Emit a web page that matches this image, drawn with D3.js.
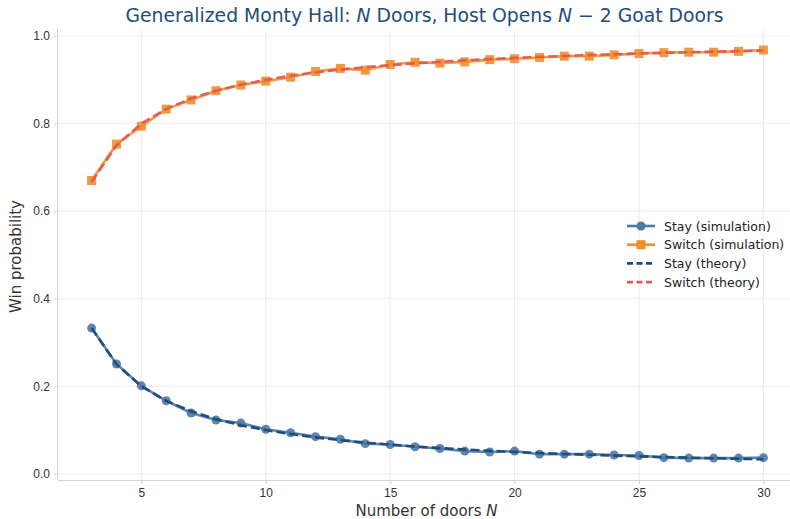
<!DOCTYPE html>
<meta charset="utf-8">
<style>
html,
body {
    margin: 0;
    padding: 0;
    overflow: hidden;
    background: #fff;
}

svg {
    display: block;
    font-family: "DejaVu Sans", sans-serif;
}

.grid line {
    stroke: #ebebeb;
    stroke-width: 1;
}

.axis text {
    font-size: 12px;
    fill: #333;
}

.axis path,
.axis line {
    stroke: #d0d3da;
}
</style>
<svg width="790" height="519"></svg>
<script src="https://d3js.org/d3.v7.min.js"></script>
<script>
var doors = d3.range(3, 31);

// simulated win rates
var staySim = [0.333, 0.251, 0.201, 0.167, 0.139, 0.123, 0.116, 0.102, 0.094, 0.085,
    0.079, 0.069, 0.067, 0.062, 0.058, 0.052, 0.050, 0.052, 0.045, 0.045,
    0.045, 0.043, 0.042, 0.037, 0.036, 0.036, 0.036, 0.037];
var switchSim = [0.670, 0.753, 0.794, 0.833, 0.854, 0.875, 0.888, 0.897, 0.906, 0.919,
    0.926, 0.922, 0.935, 0.940, 0.938, 0.941, 0.946, 0.948, 0.951, 0.954,
    0.954, 0.957, 0.960, 0.962, 0.963, 0.963, 0.965, 0.968];
// theory: 1/N and (N-1)/N
var stayTheory = [0.3333, 0.25, 0.2, 0.1667, 0.1429, 0.125, 0.1111, 0.1, 0.0909, 0.0833,
    0.0769, 0.0714, 0.0667, 0.0625, 0.0588, 0.0556, 0.0526, 0.05, 0.0476, 0.0455,
    0.0435, 0.0417, 0.04, 0.0385, 0.037, 0.0357, 0.0345, 0.0333];
var switchTheory = [0.6667, 0.75, 0.8, 0.8333, 0.8571, 0.875, 0.8889, 0.9, 0.9091, 0.9167,
    0.9231, 0.9286, 0.9333, 0.9375, 0.9412, 0.9444, 0.9474, 0.95, 0.9524, 0.9545,
    0.9565, 0.9583, 0.96, 0.9615, 0.963, 0.9643, 0.9655, 0.9667];

var xTicks = [5, 10, 15, 20, 25, 30];
var yTicks = [0, 0.2, 0.4, 0.6, 0.8, 1.0];

var svg = d3.select("svg");
var plotLeft = 58, plotRight = 797, plotTop = 29, plotBottom = 480;

var x = d3.scaleLinear().domain([1.65, 31.35]).range([plotLeft, plotRight]);
var y = d3.scaleLinear().domain([-0.014, 1.016]).range([plotBottom, plotTop]);

// grid
var grid = svg.append("g").attr("class", "grid");
grid.selectAll("line.v").data(xTicks).enter().append("line")
    .attr("class", "v")
    .attr("x1", function(d) { return x(d); })
    .attr("x2", function(d) { return x(d); })
    .attr("y1", plotTop).attr("y2", plotBottom);
grid.selectAll("line.h").data(yTicks).enter().append("line")
    .attr("class", "h")
    .attr("x1", plotLeft).attr("x2", plotRight)
    .attr("y1", function(d) { return y(d); })
    .attr("y2", function(d) { return y(d); });

// axes
var xAxis = svg.append("g").attr("class", "axis")
    .attr("transform", "translate(0," + plotBottom + ")")
    .call(d3.axisBottom(x).tickValues(xTicks).tickSize(4).tickPadding(4).tickFormat(d3.format("d")));
var yAxis = svg.append("g").attr("class", "axis")
    .attr("transform", "translate(" + plotLeft + ",0)")
    .call(d3.axisLeft(y).tickValues(yTicks).tickSize(4).tickPadding(4).tickFormat(d3.format(".1f")));
xAxis.select(".domain").attr("d", "M" + plotLeft + ",0.5H" + plotRight);
yAxis.select(".domain").attr("d", "M-0.5," + plotTop + "V" + plotBottom);

var line = function(vals) {
    return d3.line()
        .x(function(d, i) { return x(doors[i]); })
        .y(function(d) { return y(d); })(vals);
};

// simulation series
svg.append("path").attr("d", line(staySim))
    .attr("fill", "none").attr("stroke", "#4e79a7").attr("stroke-width", 2.6).attr("opacity", 0.9);
svg.append("g").selectAll("circle").data(staySim).enter().append("circle")
    .attr("cx", function(d, i) { return x(doors[i]); })
    .attr("cy", function(d) { return y(d); })
    .attr("r", 4.5)
    .attr("fill", "#4e79a7").attr("opacity", 0.9);

svg.append("path").attr("d", line(switchSim))
    .attr("fill", "none").attr("stroke", "#f28e2b").attr("stroke-width", 2.6).attr("opacity", 0.9);
svg.append("g").selectAll("rect").data(switchSim).enter().append("rect")
    .attr("x", function(d, i) { return x(doors[i]) - 4.5; })
    .attr("y", function(d) { return y(d) - 4.5; })
    .attr("width", 9).attr("height", 9)
    .attr("fill", "#f28e2b").attr("opacity", 0.9);

// theory series
svg.append("path").attr("d", line(stayTheory))
    .attr("fill", "none").attr("stroke", "#1f4e79").attr("stroke-width", 2.6)
    .attr("stroke-dasharray", "9,4");
svg.append("path").attr("d", line(switchTheory))
    .attr("fill", "none").attr("stroke", "#e15759").attr("stroke-width", 2.6)
    .attr("stroke-dasharray", "9,4").attr("opacity", 0.95);

// title and labels
var title = svg.append("text")
    .attr("x", (plotLeft + plotRight) / 2 - 3).attr("y", 22)
    .attr("text-anchor", "middle")
    .attr("font-size", 18.8).attr("fill", "#1f4e79");
title.append("tspan").text("Generalized Monty Hall: ");
title.append("tspan").attr("font-style", "italic").text("N");
title.append("tspan").text(" Doors, Host Opens ");
title.append("tspan").attr("font-style", "italic").text("N");
title.append("tspan").text(" \u2212 2 Goat Doors");

var xl = svg.append("text")
    .attr("x", (plotLeft + plotRight) / 2 - 1).attr("y", 516)
    .attr("text-anchor", "middle").attr("font-size", 15).attr("fill", "#333");
xl.append("tspan").text("Number of doors ");
xl.append("tspan").attr("font-style", "italic").text("N");

svg.append("text")
    .attr("transform", "translate(21," + ((plotTop + plotBottom) / 2 + 2) + ") rotate(-90)")
    .attr("text-anchor", "middle").attr("font-size", 15).attr("fill", "#333")
    .text("Win probability");

// legend
var legendItems = [
    { label: "Stay (simulation)", color: "#4e79a7", marker: "circle", dash: null },
    { label: "Switch (simulation)", color: "#f28e2b", marker: "square", dash: null },
    { label: "Stay (theory)", color: "#1f4e79", marker: null, dash: "6,3.5" },
    { label: "Switch (theory)", color: "#e15759", marker: null, dash: "6,3.5" }
];
var legend = svg.append("g").attr("transform", "translate(627,226)");
var item = legend.selectAll("g").data(legendItems).enter().append("g")
    .attr("transform", function(d, i) { return "translate(0," + i * 18.7 + ")"; });
item.append("line")
    .attr("x1", 0).attr("x2", 28).attr("y1", 0).attr("y2", 0)
    .attr("stroke", function(d) { return d.color; })
    .attr("stroke-width", 2.6)
    .attr("stroke-dasharray", function(d) { return d.dash; });
item.filter(function(d) { return d.marker === "circle"; }).append("circle")
    .attr("cx", 14).attr("cy", 0).attr("r", 4.5).attr("fill", function(d) { return d.color; });
item.filter(function(d) { return d.marker === "square"; }).append("rect")
    .attr("x", 9.5).attr("y", -4.5).attr("width", 9).attr("height", 9)
    .attr("fill", function(d) { return d.color; });
item.append("text")
    .attr("x", 37).attr("y", 4.5)
    .attr("font-size", 12.5).attr("fill", "#222")
    .text(function(d) { return d.label; });
</script>
